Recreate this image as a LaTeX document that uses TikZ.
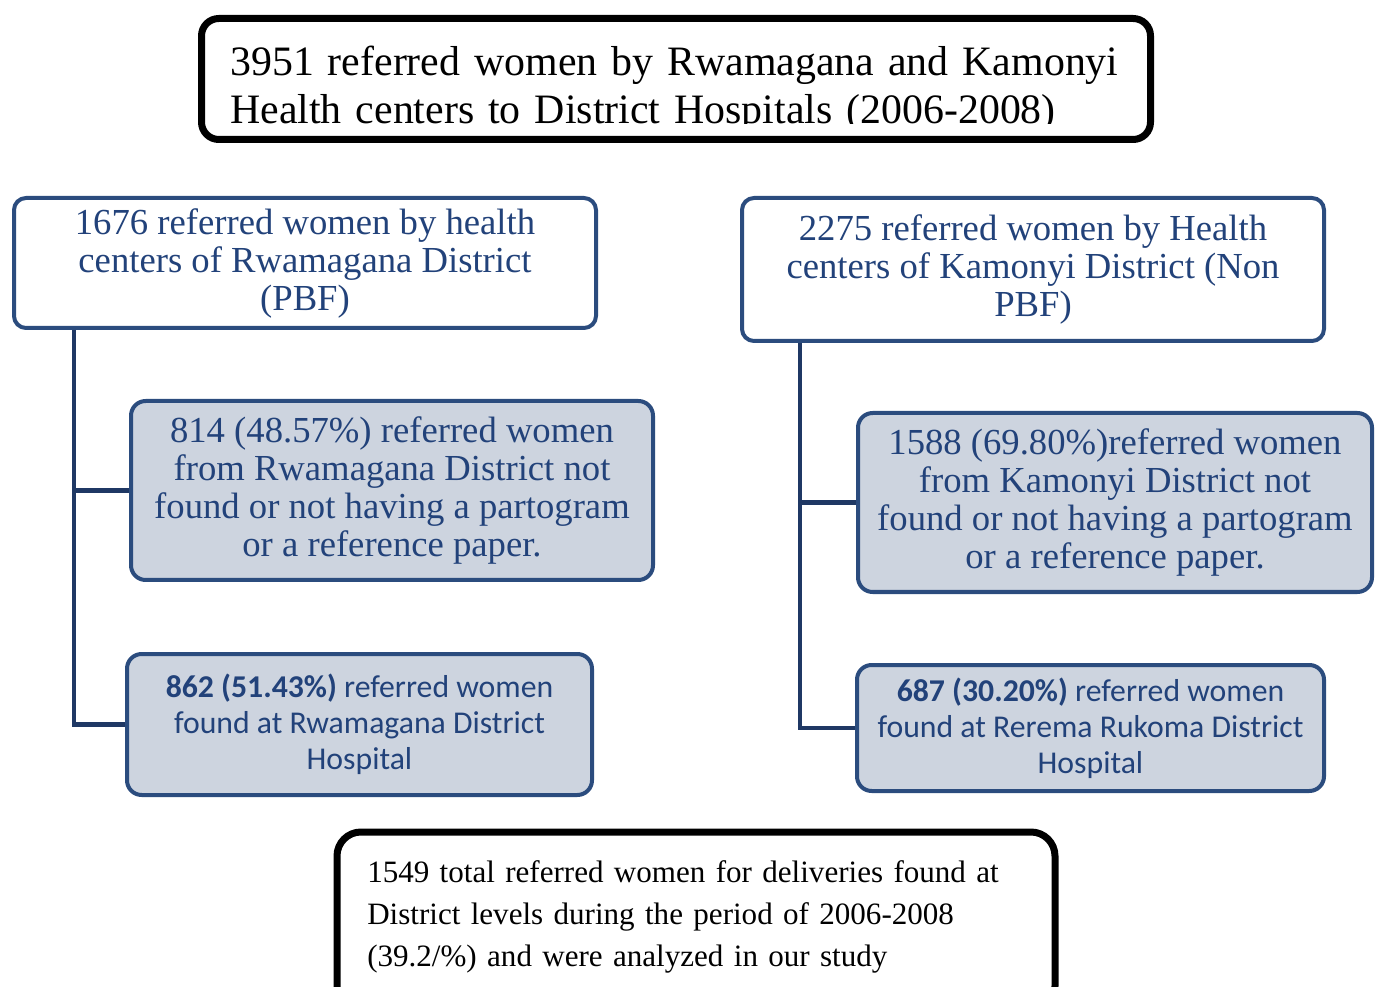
\documentclass[tikz,border=0pt]{standalone}
\usepackage{fontspec}
\setmainfont{Liberation Serif}
\newfontfamily\calib{Carlito}
\definecolor{bordblue}{HTML}{2B4C7E}
\definecolor{connblue}{HTML}{1F3864}
\definecolor{txtblue}{HTML}{22427A}
\definecolor{grayfill}{HTML}{CDD4DF}
\tikzset{
  bluebox/.style={draw=bordblue, line width=3pt, rounded corners=9pt, fill=white,
    text=txtblue, align=center, inner sep=2pt,
    font=\fontsize{27.5pt}{28.5pt}\selectfont},
  graybox/.style={bluebox, fill=grayfill, rounded corners=11pt},
  calbox/.style={graybox, font=\calib\fontsize{23.8pt}{27pt}\selectfont},
  blackbox/.style={draw=black, line width=5.25pt, fill=white, inner sep=0pt},
  conn/.style={draw=connblue, line width=3.5pt}
}
\begin{document}
\begin{tikzpicture}[x=0.75pt,y=-0.75pt]
% title box
\node[blackbox, rounded corners=13pt, minimum width=711.75pt, minimum height=90.75pt] (T) at (676,79) {};
\begin{scope}
\clip (205,22) rectangle (1148,124);
\node[anchor=base west, inner sep=0pt, text width=700pt, align=left,
  font=\fontsize{31.4pt}{36pt}\selectfont] (Tt) at (230,76)
  {3951 referred women by Rwamagana and Kamonyi\\Health centers to District Hospitals (2006-2008)};
\end{scope}

% left column
\node[bluebox, minimum width=436.5pt, minimum height=97.5pt] (L1) at (305,263)
  {1676 referred women by health\\centers of Rwamagana District\\(PBF)};
\node[graybox, minimum width=391.5pt, minimum height=134.25pt] (L2) at (392,490.5)
  {814 (48.57\%) referred women\\from Rwamagana District not\\found or not having a partogram\\or a reference paper.};
\node[calbox, minimum width=348.75pt, minimum height=105.75pt] (L3) at (359.5,724.5)
  {\textbf{862 (51.43\%)} referred women\\found at Rwamagana District\\Hospital};

% right column
\node[bluebox, minimum width=436.5pt, minimum height=107.25pt] (R1) at (1033,269.5)
  {2275 referred women by Health\\centers of Kamonyi District (Non\\PBF)};
\node[graybox, minimum width=385.5pt, minimum height=134.25pt] (R2) at (1115,502.5)
  {1588 (69.80\%)referred women\\from Kamonyi District not\\found or not having a partogram\\or a reference paper.};
\node[calbox, minimum width=350.25pt, minimum height=94.5pt] (R3) at (1090.5,728)
  {\textbf{687 (30.20\%)} referred women\\found at Rerema Rukoma District\\Hospital};

% connectors
\coordinate (Lx) at (74,263);
\coordinate (Rx) at (800,269.5);
\draw[conn] (L1.south -| Lx) |- (L3.west);
\draw[conn] (L2.west) -- (L2.west -| Lx);
\draw[conn] (R1.south -| Rx) |- (R3.west);
\draw[conn] (R2.west) -- (R2.west -| Rx);

% bottom box
\node[blackbox, rounded corners=18pt, minimum width=538.5pt, minimum height=133.5pt] (B) at (696,921) {};
\node[anchor=base west, inner sep=0pt, text width=510pt, align=left,
  font=\fontsize{23.3pt}{31.5pt}\selectfont] (Bt) at (367,882)
  {1549 total referred women for deliveries found at\\District levels during the period of 2006-2008\\(39.2/\%) and were analyzed in our study};

\pgfresetboundingbox
\path[use as bounding box] (0,0) rectangle (1379,987);
\end{tikzpicture}
\end{document}
